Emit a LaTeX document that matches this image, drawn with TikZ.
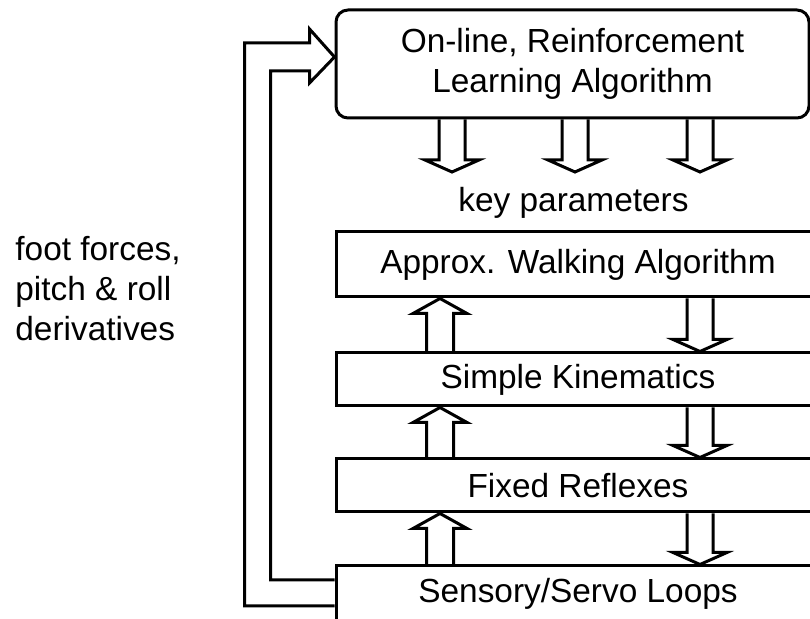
\documentclass[tikz,border=0pt]{standalone}
\usepackage{fontspec}
\setmainfont{Liberation Sans}
\usetikzlibrary{calc}
% hollow block arrows: #1 = foot on a box, #2 = tip
\newcommand{\dnarr}[2]{%
  \draw[blk] ($(#1)+(-13,0)$) -- ($(#2)+(-13,-12)$) -- ($(#2)+(-27,-12)$) -- (#2)
    -- ($(#2)+(27,-12)$) -- ($(#2)+(13,-12)$) -- ($(#1)+(13,0)$);}
\newcommand{\uparr}[2]{%
  \draw[blk] ($(#1)+(-13.5,0)$) -- ($(#2)+(-13.5,15)$) -- ($(#2)+(-27,15)$) -- (#2)
    -- ($(#2)+(27,15)$) -- ($(#2)+(13.5,15)$) -- ($(#1)+(13.5,0)$);}
\tikzset{
  blk/.style={line width=1.5pt,line join=miter},
  levelbox/.style={draw,line width=1.5pt,minimum width=242pt,minimum height=26.5pt,inner sep=0pt},
}
\begin{document}
\begin{tikzpicture}[x=0.5pt,y=-0.5pt,every node/.style={font=\fontsize{16.7pt}{20pt}\selectfont}]
		\useasboundingbox (0,0) rectangle (810,619);
		\clip (0,0) rectangle (810,619);
		% boxes
		\node[levelbox,rounded corners=6pt,minimum width=236.5pt,minimum height=54pt,align=center] (learn) at (572.5,64) {On-line, Reinforcement\\Learning Algorithm};
		\node[levelbox,minimum height=32.5pt] (walk) at (578,264.5) {Approx. Walking Algorithm};
		\node[levelbox] (kin) at (578,379.5) {Simple Kinematics};
		\node[levelbox] (reflex) at (578,485.5) {Fixed Reflexes};
		\node[levelbox,minimum height=28pt] (servo) at (578,594) {Sensory/Servo Loops};
		% labels
		\node[anchor=base,inner sep=0pt] (key) at (573.5,212) {key parameters};
		\node[anchor=north west,inner sep=0pt,align=left] (sense) at (15,236) {foot forces,\\pitch \& roll\\derivatives};
		% arrow columns
		\coordinate (kp) at (0,172);
		\coordinate (a1) at (452,0);
		\coordinate (a2) at (575,0);
		\coordinate (a3) at (700,0);
		\coordinate (up) at (440,0);
		\coordinate (dn) at (700,0);
		\foreach \c in {a1,a2,a3}
			\dnarr{learn.south -| \c}{kp -| \c};
		\foreach \lo/\hi in {kin/walk,reflex/kin,servo/reflex}{
			\uparr{\lo.north -| up}{\hi.south -| up}
			\dnarr{\hi.south -| dn}{\lo.north -| dn}
		}
		% feedback loop
		\coordinate (fbtip) at ($(learn.west)+(0,-7)$);
		\draw[blk] ($(servo.west)+(0,12)$) -- ++(-90,0) |- ($(fbtip)+(-25,-14)$) -- ++(0,-14) -- (fbtip)
			-- ++(-25,26) -- ++(0,-12) -| ($(servo.west)+(-64,-14)$) -- ++(64,0);
		\end{tikzpicture}
\end{document}
